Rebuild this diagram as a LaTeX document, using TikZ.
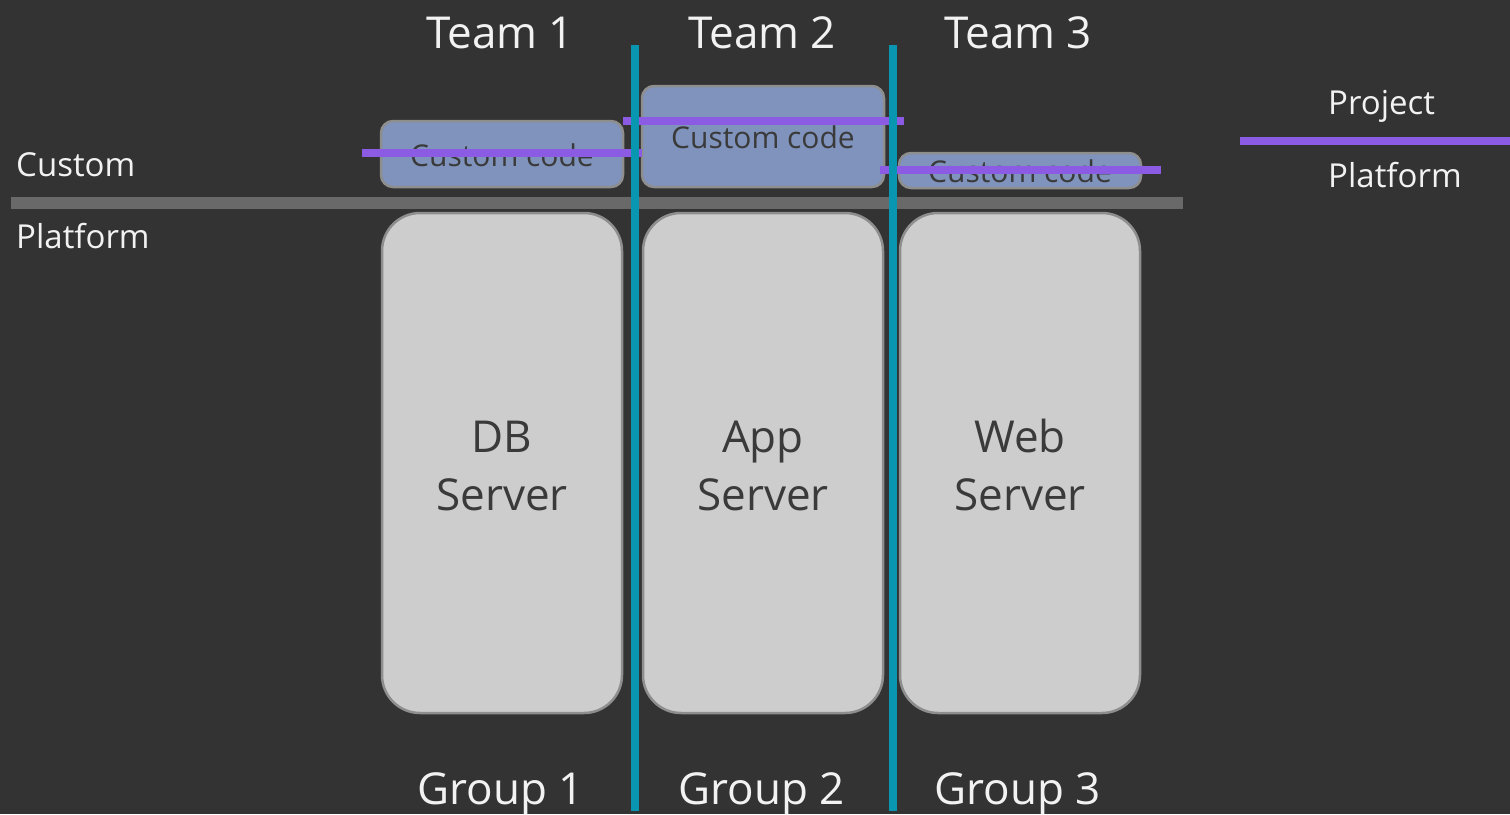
\documentclass[tikz,border=0pt]{standalone}
\usepackage{fontspec}
\setmainfont{Open Sans}
\definecolor{bgc}{HTML}{333333}
\definecolor{barc}{HTML}{696969}
\definecolor{srvfill}{HTML}{CDCDCD}
\definecolor{srvline}{HTML}{8E8E8E}
\definecolor{codefill}{HTML}{7F93BD}
\definecolor{purp}{HTML}{8B5BE3}
\definecolor{teal}{HTML}{0896B0}
\definecolor{darktxt}{HTML}{3A3A3A}
\definecolor{lighttxt}{HTML}{F2F2F2}
\tikzset{
  srvbox/.style={draw=srvline, fill=srvfill, line width=2.5pt, rounded corners=38pt,
    minimum width=240pt, minimum height=500pt, inner sep=0pt},
  codebox/.style={draw=srvline, fill=codefill, line width=2.5pt, rounded corners=12pt,
    minimum width=242pt, inner sep=0pt},
  codetxt/.style={text=darktxt, font=\fontsize{30}{36}\selectfont, inner sep=0pt},
  srvtxt/.style={text=darktxt, font=\fontsize{44}{58}\selectfont, inner sep=0pt, anchor=base},
  hdr/.style={text=lighttxt, font=\fontsize{44}{56}\selectfont, inner sep=0pt, anchor=base},
  side/.style={text=lighttxt, font=\fontsize{33}{40}\selectfont, inner sep=0pt, anchor=base west},
  purpline/.style={purp, line width=8pt},
  tealline/.style={teal, line width=8pt},
}
\begin{document}
\begin{tikzpicture}[x=1pt,y=-1pt]
\fill[bgc] (0,0) rectangle (1510,814);
\useasboundingbox (0,0) rectangle (1510,814);
% platform bar
\fill[barc] (11,197) rectangle (1183,209);
% server boxes
\node[srvbox] (db) at (502,463) {};
\node[srvbox] (app) at (763,463) {};
\node[srvbox] (web) at (1020,463) {};
\node[srvtxt] (db1) at (502,452) {DB};
\node[srvtxt] (db2) at (502,510) {Server};
\node[srvtxt] (app1) at (763,452) {App};
\node[srvtxt] (app2) at (763,510) {Server};
\node[srvtxt] (web1) at (1020,452) {Web};
\node[srvtxt] (web2) at (1020,510) {Server};
% custom code boxes
\node[codebox, minimum height=66pt] (c1) at (502,154) {};
\node[codebox, minimum height=101pt] (c2) at (763,136.5) {};
\node[codebox, minimum height=35pt] (c3) at (1020,170.5) {};
\node[codetxt] (c1t) at (502,155) {Custom code};
\node[codetxt] (c2t) at (763,137) {Custom code};
\node[codetxt] (c3t) at (1020,171) {Custom code};
% purple lines
\coordinate (p1a) at (362,153); \coordinate (p1b) at (642,153);
\coordinate (p2a) at (623,121); \coordinate (p2b) at (904,121);
\coordinate (p3a) at (880,170); \coordinate (p3b) at (1161,170);
\coordinate (pla) at (1240,141); \coordinate (plb) at (1510,141);
\draw[purpline] (p1a) -- (p1b);
\draw[purpline] (p2a) -- (p2b);
\draw[purpline] (p3a) -- (p3b);
\draw[purpline] (pla) -- (plb);
% teal separators
\coordinate (t1a) at (635,45); \coordinate (t1b) at (635,811);
\coordinate (t2a) at (893,45); \coordinate (t2b) at (893,811);
\draw[tealline] (t1a) -- (t1b);
\draw[tealline] (t2a) -- (t2b);
% headers
\node[hdr] (team1) at (500,48) {Team 1};
\node[hdr] (team2) at (762,48) {Team 2};
\node[hdr] (team3) at (1018,48) {Team 3};
\node[hdr] (grp1) at (501,804) {Group 1};
\node[hdr] (grp2) at (762,804) {Group 2};
\node[hdr] (grp3) at (1018,804) {Group 3};
% side labels
\node[side] (custom) at (16,176) {Custom};
\node[side] (platform) at (16,248) {Platform};
\node[side] (legproj) at (1328,114) {Project};
\node[side] (legplat) at (1328,187) {Platform};
\end{tikzpicture}
\end{document}
